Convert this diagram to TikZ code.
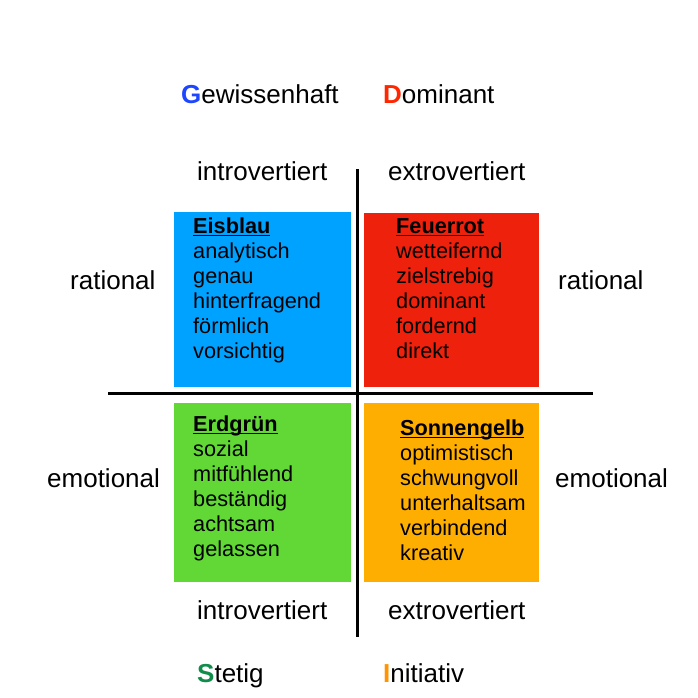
\documentclass[tikz,border=0pt]{standalone}
\usepackage{fontspec}
\setmainfont{Liberation Sans}
\definecolor{boxblue}{RGB}{0,162,255}
\definecolor{boxred}{RGB}{238,34,12}
\definecolor{boxgreen}{RGB}{97,216,54}
\definecolor{boxorange}{RGB}{254,174,0}
\definecolor{letblue}{RGB}{30,70,255}
\definecolor{letred}{RGB}{255,38,0}
\definecolor{letgreen}{RGB}{16,140,75}
\definecolor{letorange}{RGB}{255,147,0}
\newcommand{\hdul}[1]{\setbox0\hbox{#1}\rlap{\rule[-2.6pt]{\wd0}{1.3pt}}\box0}
\begin{document}
\begin{tikzpicture}[x=1pt,y=-1pt,
  lbl/.style={font=\fontsize{26}{30}\selectfont, inner sep=0, anchor=base west},
  boxtext/.style={font=\fontsize{21.7}{25}\selectfont, inner sep=0, anchor=north west, align=left},
  quad/.style={draw=none},
  axis/.style={line width=3pt}]
\useasboundingbox (0,0) rectangle (698,698);
% quadrants
\fill[boxblue]   (174,212) rectangle (351,387);
\fill[boxred]    (364,213) rectangle (539,387);
\fill[boxgreen]  (174,403) rectangle (351,582);
\fill[boxorange] (364,403) rectangle (539,582);
% axes
\coordinate (vtop) at (357,169);
\coordinate (vbot) at (357,637);
\coordinate (hleft) at (108,393);
\coordinate (hright) at (593,393);
\draw[axis] (vtop) -- (vbot);
\draw[axis] (hleft) -- (hright);
% box texts
\node[boxtext] (tblue) at (193,217) {\rule{0pt}{16pt}\textbf{\hdul{Eisblau}}\\analytisch\\genau\\hinterfragend\\förmlich\\vorsichtig};
\node[boxtext] (tred) at (396,217) {\rule{0pt}{16pt}\textbf{\hdul{Feuerrot}}\\wetteifernd\\zielstrebig\\dominant\\fordernd\\direkt};
\node[boxtext] (tgreen) at (193,415) {\rule{0pt}{16pt}\textbf{\hdul{Erdgrün}}\\sozial\\mitfühlend\\beständig\\achtsam\\gelassen};
\node[boxtext] (torange) at (400,419) {\rule{0pt}{16pt}\textbf{\hdul{Sonnengelb}}\\optimistisch\\schwungvoll\\unterhaltsam\\verbindend\\kreativ};
% labels
\node[lbl] (gew) at (181,104) {\textcolor{letblue}{\textbf{G}}ewissenhaft};
\node[lbl] (dom) at (383,104) {\textcolor{letred}{\textbf{D}}ominant};
\node[lbl] (intop) at (197,180) {introvertiert};
\node[lbl] (extop) at (388,180) {extrovertiert};
\node[lbl] (inbot) at (197,619) {introvertiert};
\node[lbl] (exbot) at (388,619) {extrovertiert};
\node[lbl] (stet) at (197,682) {\textcolor{letgreen}{\textbf{S}}tetig};
\node[lbl] (init) at (383,682) {\textcolor{letorange}{\textbf{I}}nitiativ};
\node[lbl] (ratl) at (70,289) {rational};
\node[lbl] (emol) at (47,487) {emotional};
\node[lbl] (ratr) at (558,289) {rational};
\node[lbl] (emor) at (555,487) {emotional};
\end{tikzpicture}
\end{document}
